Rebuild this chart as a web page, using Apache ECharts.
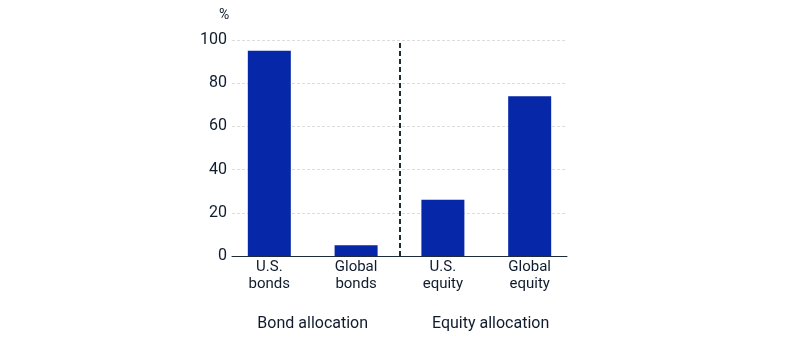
<!DOCTYPE html>
<html>
<head>
<meta charset="utf-8">
<script src="https://cdn.jsdelivr.net/npm/echarts@6/dist/echarts.min.js"></script>
<style>
  html, body { margin: 0; padding: 0; background: #fff; }
  #chart { width: 795px; height: 338px; }
</style>
</head>
<body>
<div id="chart"></div>
<script>
// Allocation shares, in percent
const categories = ['U.S.\nbonds', 'Global\nbonds', 'U.S.\nequity', 'Global\nequity'];
const shares = [95, 5, 26, 74];
const groups = ['Bond allocation', 'Equity allocation'];
const groupCenters = [0.5, 2.55];
const dividerAt = 1.5;
const yTicks = [0, 20, 40, 60, 80, 100];
const unitLabel = '%';

const textColor = '#0f1c2e';
const font = 'Roboto, "Noto Sans", sans-serif';

const chart = echarts.init(document.getElementById('chart'), null, { renderer: 'canvas' });

chart.setOption({
  animation: false,
  title: {
    text: unitLabel,
    left: 214,
    top: 3,
    textStyle: { color: textColor, fontFamily: font, fontSize: 14, fontWeight: 'normal' }
  },
  grid: { left: 232, right: 228, top: 40, bottom: 82, containLabel: false },
  xAxis: [
    {
      type: 'value',
      min: -0.43,
      max: 3.43,
      axisLine: { show: true, lineStyle: { color: '#1d2b3a', width: 1 } },
      axisTick: { show: false },
      splitLine: { show: false },
      axisLabel: {
        customValues: categories.map((_, i) => i),
        formatter: v => categories[Math.round(v)],
        color: textColor,
        fontFamily: font,
        fontSize: 15,
        lineHeight: 17,
        margin: 3,
        showMinLabel: true,
        showMaxLabel: true
      }
    },
    {
      type: 'value',
      position: 'bottom',
      offset: 57,
      min: -0.43,
      max: 3.43,
      axisLine: { show: false },
      axisTick: { show: false },
      splitLine: { show: false },
      axisLabel: {
        customValues: groupCenters,
        formatter: v => groups[groupCenters.indexOf(v)],
        color: textColor,
        fontFamily: font,
        fontSize: 16,
        margin: 3
      }
    }
  ],
  yAxis: {
    type: 'value',
    min: yTicks[0],
    max: yTicks[yTicks.length - 1],
    interval: 20,
    axisLine: { show: false },
    axisTick: { show: false },
    axisLabel: { color: textColor, fontFamily: font, fontSize: 16, margin: 5 },
    splitLine: { show: true, lineStyle: { color: '#dcdcdc', type: [3, 2], width: 1 } }
  },
  series: [
    {
      type: 'bar',
      data: shares.map((v, i) => [i, v]),
      barWidth: 43,
      itemStyle: { color: '#0627a7' },
      markLine: {
        silent: true,
        symbol: 'none',
        label: { show: false },
        lineStyle: { color: '#1d2b2e', type: [5, 3], width: 2 },
        data: [{ xAxis: dividerAt }]
      }
    }
  ]
});
</script>
</body>
</html>
